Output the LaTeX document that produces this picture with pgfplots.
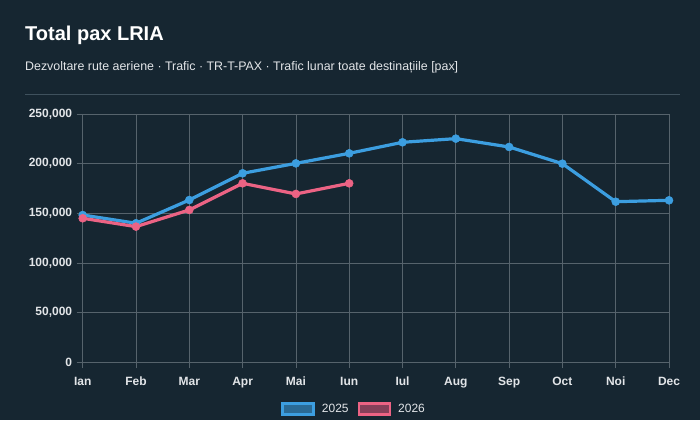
\documentclass[border=0pt]{standalone}
\usepackage{pgfplots}
\pgfplotsset{compat=1.18}
\usepackage{fontspec}
\setmainfont{Liberation Sans}
\definecolor{bgc}{HTML}{162631}
\definecolor{sepc}{HTML}{3F515D}
\definecolor{gridc}{HTML}{56636C}
\definecolor{tickc}{HTML}{E2E5E8}
\definecolor{blueL}{HTML}{3C9EE0}
\definecolor{blueF}{HTML}{2A6A95}
\definecolor{redL}{HTML}{EC6384}
\definecolor{redF}{HTML}{86405A}
\begin{document}
\begin{tikzpicture}[x=1pt,y=1pt]
\fill[bgc] (0,0) rectangle (700,420);
\node[anchor=base west, inner sep=0pt, text=white, font=\fontsize{20}{24}\selectfont\bfseries] at (25,379.3) {Total pax LRIA};
\node[anchor=base west, inner sep=0pt, text=tickc, font=\fontsize{12.4}{15}\selectfont] at (25,349.5) {Dezvoltare rute aeriene · Trafic · TR-T-PAX · Trafic lunar toate destinațiile [pax]};
\draw[sepc, line width=1pt] (25,325) -- (680,325);
\begin{axis}[
  at={(82.7pt,57.7pt)}, anchor=south west,
  scale only axis, width=586.3pt, height=248.3pt,
  xmin=0, xmax=11, ymin=0, ymax=250000,
  xtick={0,...,11},
  xticklabels={Ian,Feb,Mar,Apr,Mai,Iun,Iul,Aug,Sep,Oct,Noi,Dec},
  ytick={0,50000,100000,150000,200000,250000},
  yticklabels={0,{50,000},{100,000},{150,000},{200,000},{250,000}},
  scaled y ticks=false,
  grid=major,
  major grid style={gridc, line width=0.8pt},
  axis line style={gridc, line width=0.8pt},
  tick style={gridc, line width=0.8pt},
  tick pos=left,
  tick align=outside, major tick length=6pt,
  ticklabel style={text=tickc, font=\fontsize{12}{14}\selectfont\bfseries},
  xticklabel style={yshift=-5pt},
  yticklabel style={xshift=-1pt},
  legend columns=2,
  legend style={draw=none, fill=none, text=tickc, font=\fontsize{12}{14}\selectfont,
    at={(axis description cs:0.463,-0.188)}, anchor=center,
    /tikz/every odd column/.append style={column sep=5pt},
    /tikz/every even column/.append style={column sep=7pt}},
  clip=false,
]
\addplot[blueL, line width=3.2pt, mark=*, mark size=4pt, mark options={fill=blueL, line width=0.5pt}, forget plot] coordinates {
(0,148300) (1,140000) (2,163400) (3,190300) (4,200300) (5,210400)
(6,221500) (7,225200) (8,216800) (9,200000) (10,161700) (11,163100)};
\addplot[redL, line width=3.2pt, mark=*, mark size=4pt, mark options={fill=redL, line width=0.5pt}, forget plot] coordinates {
(0,145000) (1,136600) (2,153400) (3,180200) (4,169500) (5,180200)};
\addlegendimage{legend image code/.code={\draw[draw=blueL, line width=2.5pt, fill=blueF] (0pt,-5.5pt) rectangle (31pt,5.5pt);}}
\addlegendentry{2025}
\addlegendimage{legend image code/.code={\draw[draw=redL, line width=2.5pt, fill=redF] (0pt,-5.5pt) rectangle (31pt,5.5pt);}}
\addlegendentry{2026}
\end{axis}
\end{tikzpicture}
\end{document}
